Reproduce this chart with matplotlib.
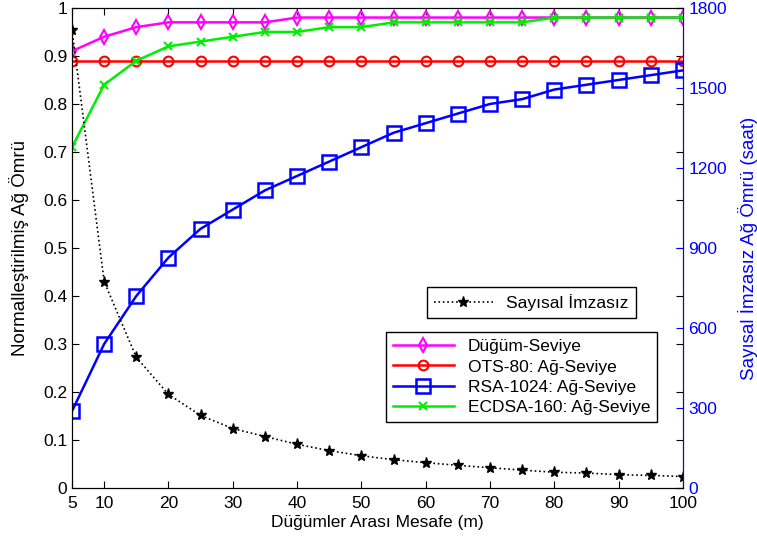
import matplotlib.pyplot as plt
import numpy as np

plt.rcParams['font.family'] = ['Liberation Sans', 'DejaVu Sans']
plt.rcParams['font.size'] = 12.5

mesafe = [5, 10, 15, 20, 25, 30, 35, 40, 45, 50, 55, 60, 65, 70, 75, 80, 85, 90, 95, 100]
dugum_seviye = [0.91, 0.94, 0.96, 0.97, 0.97, 0.97, 0.97, 0.98, 0.98, 0.98,
                0.98, 0.98, 0.98, 0.98, 0.98, 0.98, 0.98, 0.98, 0.98, 0.98]
ots80 = [0.89] * 20
rsa1024 = [0.16, 0.30, 0.40, 0.48, 0.54, 0.58, 0.62, 0.65, 0.68, 0.71,
           0.74, 0.76, 0.78, 0.80, 0.81, 0.83, 0.84, 0.85, 0.86, 0.87]
ecdsa160 = [0.71, 0.84, 0.89, 0.92, 0.93, 0.94, 0.95, 0.95, 0.96, 0.96,
            0.97, 0.97, 0.97, 0.97, 0.97, 0.98, 0.98, 0.98, 0.98, 0.98]
# hours, right axis
imzasiz_saat = [1719, 774, 490, 351, 272, 223, 193, 164, 140, 121,
                106, 95, 85, 76, 67, 59, 56, 50, 47, 43]

fig = plt.figure(figsize=(7.57, 5.48), dpi=100)
ax = fig.add_axes([0.0951, 0.1095, 0.8071, 0.876])
ax2 = ax.twinx()

l1, = ax.plot(mesafe, dugum_seviye, color='magenta', lw=1.8, marker='d', ms=7, mfc='none', mew=1.5)
l2, = ax.plot(mesafe, ots80, color='red', lw=1.8, marker='o', ms=7, mfc='none', mew=1.5)
l3, = ax.plot(mesafe, rsa1024, color='blue', lw=1.8, marker='s', ms=9.5, mfc='none', mew=1.8)
l4, = ax.plot(mesafe, ecdsa160, color='#00ee00', lw=1.8, marker='x', ms=6, mew=1.5)
l5, = ax2.plot(mesafe, imzasiz_saat, color='black', lw=1.2, ls=':', marker='*', ms=8)

ax.set_xlim(5, 100)
ax.set_ylim(0, 1)
ax.set_xticks([5, 10, 20, 30, 40, 50, 60, 70, 80, 90, 100])
ax.set_yticks(np.arange(0, 1.01, 0.1))
ax.set_yticklabels(['0', '0.1', '0.2', '0.3', '0.4', '0.5', '0.6', '0.7', '0.8', '0.9', '1'])
ax.tick_params(direction='in', top=True, right=True, length=5)
ax.tick_params(axis='x', pad=6)
ax.set_xlabel('Düğümler Arası Mesafe (m)', labelpad=3)
ax.set_ylabel('Normalleştirilmiş Ağ Ömrü', fontsize=13.5, labelpad=10)

ax2.set_ylim(0, 1800)
ax2.set_yticks(np.arange(0, 1801, 300))
ax2.tick_params(direction='in', colors='blue', length=5, pad=4)
ax2.spines['right'].set_color('blue')
ax2.set_ylabel('Sayısal İmzasız Ağ Ömrü (saat)', color='blue', fontsize=13.5, labelpad=8)

leg1 = fig.legend([l5], ['Sayısal İmzasız'], loc='upper right',
                  bbox_to_anchor=(0.840, 0.476), fancybox=False, edgecolor='black',
                  framealpha=1, handlelength=3.4, borderaxespad=0)
leg1.get_frame().set_linewidth(1.0)
leg2 = fig.legend([l1, l2, l3, l4],
                  ['Düğüm-Seviye', 'OTS-80: Ağ-Seviye', 'RSA-1024: Ağ-Seviye', 'ECDSA-160: Ağ-Seviye'],
                  loc='upper right', bbox_to_anchor=(0.868, 0.394), fancybox=False,
                  edgecolor='black', framealpha=1, handlelength=3.5, borderaxespad=0,
                  labelspacing=0.3)
leg2.get_frame().set_linewidth(1.0)

fig.savefig('out.png', dpi=100)
